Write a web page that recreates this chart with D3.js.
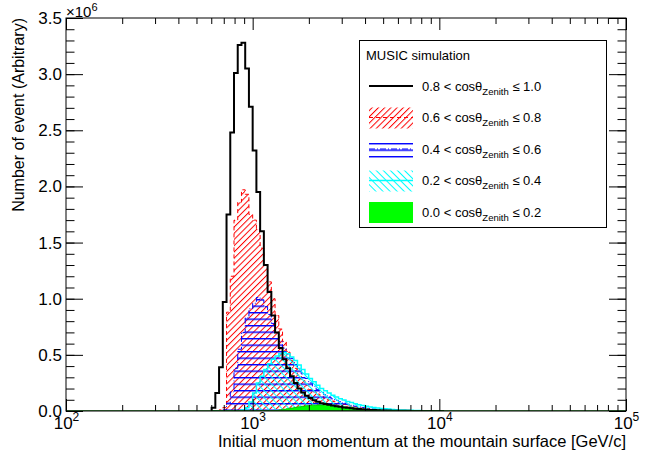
<!doctype html>
<html lang="en">
  <head>
    <meta charset="utf-8">
    <title>muon momentum by zenith angle</title>
    <script src="https://d3js.org/d3.v7.min.js"></script>
    <style>
      body {
        margin: 0;
        background: #fff;
        font-family: 'Liberation Sans', Arial, sans-serif;
      }
    </style>
  </head>
  <body>
    <div id="root"></div>
  </body>
  <script>

    //data: log bins, 50 per decade, first bin starts at 10^2.78 GeV/c, values in units of 10^6
    const firstEdgeLog = 2.78;
    const binsPerDecade = 50;

    const cosLow = ["0.8", "0.6", "0.4", "0.2", "0.0"];
    const cosHigh = ["1.0", "0.8", "0.6", "0.4", "0.2"];

    const black = [0.03, 0.16, 0.39, 0.97, 1.75, 2.48, 3.01, 3.26, 3.28, 3.05,
      2.71, 2.32, 1.95, 1.60, 1.30, 1.06, 0.85, 0.70, 0.56, 0.46,
      0.38, 0.31, 0.25, 0.20, 0.165, 0.135, 0.115, 0.095, 0.082, 0.07,
      0.062, 0.055, 0.048, 0.042, 0.037, 0.032, 0.028, 0.024, 0.02, 0.017,
      0.014, 0.012, 0.01, 0.008, 0.0065, 0.0055, 0.0045, 0.0035, 0.003, 0.0025,
      0.002, 0.0015, 0.0012, 0.001, 0.0008, 0.0006, 0.0005, 0.0004, 0.0003, 0.0002,
      0.0002, 0.0001];
    const red = [0, 0, 0.01, 0.03, 0.88, 1.20, 1.70, 1.86, 1.97, 1.93,
      1.75, 1.70, 1.62, 1.45, 1.30, 1.15, 1.00, 0.85, 0.73, 0.62,
      0.53, 0.45, 0.38, 0.32, 0.27, 0.23, 0.19, 0.17, 0.15, 0.13,
      0.115, 0.10, 0.088, 0.077, 0.067, 0.058, 0.05, 0.043, 0.037, 0.031,
      0.026, 0.022, 0.018, 0.015, 0.012, 0.01, 0.008, 0.0065, 0.005, 0.004,
      0.0032, 0.0025, 0.002, 0.0015, 0.0012, 0.0009, 0.0007, 0.0005, 0.0004, 0.0003,
      0.0002, 0.0001];
    const blue = [0, 0, 0, 0.01, 0.07, 0.17, 0.38, 0.55, 0.70, 0.83,
      0.91, 0.96, 1.01, 0.99, 0.93, 0.86, 0.78, 0.70, 0.62, 0.56,
      0.51, 0.47, 0.43, 0.38, 0.33, 0.29, 0.25, 0.22, 0.19, 0.165,
      0.145, 0.125, 0.108, 0.094, 0.082, 0.07, 0.06, 0.051, 0.043, 0.036,
      0.03, 0.025, 0.021, 0.017, 0.014, 0.011, 0.009, 0.007, 0.0055, 0.0045,
      0.0035, 0.0028, 0.0022, 0.0017, 0.0013, 0.001, 0.0008, 0.0006, 0.0004, 0.0003,
      0.0002, 0.0001];
    const cyan = [0, 0, 0, 0, 0, 0, 0, 0, 0.01, 0.03,
      0.08, 0.16, 0.25, 0.31, 0.37, 0.42, 0.46, 0.49, 0.51, 0.52,
      0.51, 0.48, 0.45, 0.41, 0.37, 0.33, 0.29, 0.26, 0.23, 0.20,
      0.18, 0.16, 0.14, 0.125, 0.11, 0.097, 0.085, 0.075, 0.065, 0.056,
      0.048, 0.042, 0.036, 0.031, 0.027, 0.023, 0.02, 0.017, 0.014, 0.012,
      0.01, 0.008, 0.007, 0.006, 0.005, 0.004, 0.003, 0.0025, 0.002, 0.0015,
      0.001, 0.0008];
    const green = [0, 0, 0, 0, 0, 0, 0, 0, 0, 0,
      0, 0, 0, 0, 0, 0, 0.002, 0.005, 0.01, 0.015,
      0.02, 0.026, 0.032, 0.037, 0.042, 0.046, 0.05, 0.052, 0.053, 0.053,
      0.052, 0.05, 0.047, 0.044, 0.04, 0.036, 0.032, 0.028, 0.024, 0.02,
      0.017, 0.014, 0.012, 0.01, 0.008, 0.006, 0.005, 0.004, 0.003, 0.0025,
      0.002, 0.0015, 0.001, 0.0008, 0.0006, 0.0005, 0.0004, 0.0003, 0.0002, 0.0002,
      0.0001, 0.0001];

    const xTicks = [1e2, 1e3, 1e4, 1e5];
    const yTicks = [0, 0.5, 1.0, 1.5, 2.0, 2.5, 3.0, 3.5];

    //constants:
    const width = 650;
    const height = 451;
    const padL = 66, padR = 626, padT = 18, padB = 411;

    const binEdges = d3.range(black.length + 1)
      .map(i => Math.pow(10, firstEdgeLog + i / binsPerDecade));

    const x = d3.scaleLog().domain([1e2, 1e5]).range([padL, padR]);
    const y = d3.scaleLinear().domain([0, 3.5]).range([padB, padT]);

    //svg:
    const svg = d3.select("#root")
      .append("svg")
      .attr("width", width)
      .attr("height", height);

    const defs = svg.append("defs");

    defs.append("clipPath").attr("id", "clip")
      .append("rect")
      .attr("x", padL).attr("y", padT)
      .attr("width", padR - padL).attr("height", padB - padT);

    // hatch patterns: one thin bar per tile, rotated
    function hatch(id, color, spacing, thick, angle) {
      defs.append("pattern").attr("id", id)
        .attr("patternUnits", "userSpaceOnUse")
        .attr("width", spacing).attr("height", 10)
        .attr("patternTransform", `rotate(${angle})`)
        .append("rect")
        .attr("x", 0).attr("y", 0)
        .attr("width", thick).attr("height", 10)
        .attr("fill", color);
    }
    hatch("hatchRed", "#ff0000", 4.4, 1, 45);
    hatch("hatchBlue", "#0000ff", 6.5, 1.4, 90);
    hatch("hatchCyan", "#00ffff", 5, 1, -45);

    const series = [
      { values: red, fill: "url(#hatchRed)", stroke: "#ff0000", width: 1, dash: "4,3" },
      { values: blue, fill: "url(#hatchBlue)", stroke: "#0000ff", width: 1, dash: "6,2,1,2" },
      { values: cyan, fill: "url(#hatchCyan)", stroke: "#00ffff", width: 1.5, dash: null },
      { values: green, fill: "#00ff00", stroke: "#00cc00", width: 1, dash: null },
      { values: black, fill: "none", stroke: "#000000", width: 2, dash: null }
    ];

    function stepPoints(values) {
      const pts = [[binEdges[0], 0]];
      values.forEach((v, i) => {
        pts.push([binEdges[i], v]);
        pts.push([binEdges[i + 1], v]);
      });
      pts.push([binEdges[values.length], 0]);
      return pts;
    }

    const line = d3.line().x(d => x(d[0])).y(d => y(d[1]));

    const plot = svg.append("g").attr("clip-path", "url(#clip)");

    series.forEach(s => {
      const pts = stepPoints(s.values);
      if (s.fill !== "none") {
        plot.append("path")
          .attr("d", line(pts) + "Z")
          .attr("fill", s.fill)
          .attr("stroke", "none");
      }
      plot.append("path")
        .attr("d", line(pts))
        .attr("fill", "none")
        .attr("stroke", s.stroke)
        .attr("stroke-width", s.width)
        .attr("stroke-dasharray", s.dash)
        .attr("stroke-linejoin", "miter");
    });

    // green baseline over the whole axis
    plot.append("line")
      .attr("x1", padL).attr("x2", padR)
      .attr("y1", y(0)).attr("y2", y(0))
      .attr("stroke", "#0a6a0a").attr("stroke-width", 1.5);

    //axes:
    const fontSize = 17;
    const yMinor = d3.range(0, 3.51, 0.1);
    const xMinor = [];
    [100, 1000, 10000].forEach(d => d3.range(2, 10).forEach(m => xMinor.push(d * m)));

    function tidy(g) {
      g.select(".domain").remove();
      g.selectAll(".tick line").attr("stroke", "#000");
    }

    svg.append("g").attr("transform", `translate(${padL},0)`)
      .call(d3.axisLeft(y).tickValues(yMinor).tickSize(-8.5).tickFormat(""))
      .call(tidy);
    svg.append("g").attr("transform", `translate(${padR},0)`)
      .call(d3.axisRight(y).tickValues(yMinor).tickSize(-8.5).tickFormat(""))
      .call(tidy);
    svg.append("g").attr("transform", `translate(${padR},0)`)
      .call(d3.axisRight(y).tickValues(yTicks).tickSize(-17).tickFormat(""))
      .call(tidy);

    svg.append("g").attr("transform", `translate(${padL},0)`)
      .call(d3.axisLeft(y).tickValues(yTicks).tickSize(-17).tickPadding(4).tickFormat(d3.format(".1f")))
      .call(tidy)
      .call(g => g.selectAll("text")
        .attr("font-family", "'Liberation Sans', Arial, sans-serif")
        .attr("font-size", fontSize).attr("fill", "#000"));

    svg.append("g").attr("transform", `translate(0,${padB})`)
      .call(d3.axisBottom(x).tickValues(xMinor).tickSize(-6).tickFormat(""))
      .call(tidy);
    svg.append("g").attr("transform", `translate(0,${padT})`)
      .call(d3.axisTop(x).tickValues(xMinor).tickSize(-6).tickFormat(""))
      .call(tidy);
    svg.append("g").attr("transform", `translate(0,${padT})`)
      .call(d3.axisTop(x).tickValues(xTicks).tickSize(-12).tickFormat(""))
      .call(tidy);

    const xAxis = svg.append("g").attr("transform", `translate(0,${padB})`)
      .call(d3.axisBottom(x).tickValues(xTicks).tickSize(-12).tickPadding(4).tickFormat(""))
      .call(tidy);
    xAxis.selectAll(".tick text").each(function(d) {
      const t = d3.select(this)
        .attr("font-family", "'Liberation Sans', Arial, sans-serif")
        .attr("font-size", fontSize).attr("fill", "#000")
        .attr("dy", "0.8em");
      t.append("tspan").text("10");
      t.append("tspan").attr("font-size", 12).attr("dy", "-0.6em")
        .text(Math.round(Math.log10(d)));
    });

    // frame
    svg.append("rect")
      .attr("x", padL).attr("y", padT)
      .attr("width", padR - padL).attr("height", padB - padT)
      .attr("fill", "none").attr("stroke", "#000").attr("stroke-width", 1);

    // exponent label
    const expo = svg.append("text")
      .attr("x", padL).attr("y", 17)
      .attr("font-size", 15);
    expo.append("tspan").text("\u00d710");
    expo.append("tspan").attr("font-size", 11).attr("dy", -6).text("6");

    //titles:
    svg.append("text")
      .attr("x", padR).attr("y", 447)
      .attr("text-anchor", "end")
      .attr("font-size", 16.5)
      .text("Initial muon momentum at the mountain surface [GeV/c]");

    svg.append("text")
      .attr("transform", `translate(24,${padT}) rotate(-90)`)
      .attr("text-anchor", "end")
      .attr("font-size", 16)
      .text("Number of event (Arbitrary)");

    //legend:
    const lg = svg.append("g");
    lg.append("rect")
      .attr("x", 359.5).attr("y", 40.5)
      .attr("width", 247).attr("height", 187)
      .attr("fill", "#fff").attr("stroke", "#000").attr("stroke-width", 1);
    lg.append("text")
      .attr("x", 366).attr("y", 60)
      .attr("font-size", 13)
      .text("MUSIC simulation");

    const legendOrder = [4, 0, 1, 2, 3];
    legendOrder.forEach((si, i) => {
      const s = series[si];
      const cy = 86 + i * 31.5;
      if (s.fill !== "none") {
        lg.append("rect")
          .attr("x", 369).attr("y", cy - 10)
          .attr("width", 44).attr("height", 21)
          .attr("fill", s.fill);
      }
      if (s.fill !== "#00ff00") {
        lg.append("line")
          .attr("x1", 369).attr("x2", 413)
          .attr("y1", cy).attr("y2", cy)
          .attr("stroke", s.stroke)
          .attr("stroke-width", s.width)
          .attr("stroke-dasharray", s.dash);
      }
      const t = lg.append("text")
        .attr("x", 422).attr("y", cy + 4.5)
        .attr("font-size", 13);
      t.append("tspan").text(`${cosLow[i]} < cos\u03b8`);
      t.append("tspan").attr("font-size", 9.5).attr("dy", 4).text("Zenith");
      t.append("tspan").attr("dy", -4).text(` \u2264 ${cosHigh[i]}`);
    });

  </script>
</html>
